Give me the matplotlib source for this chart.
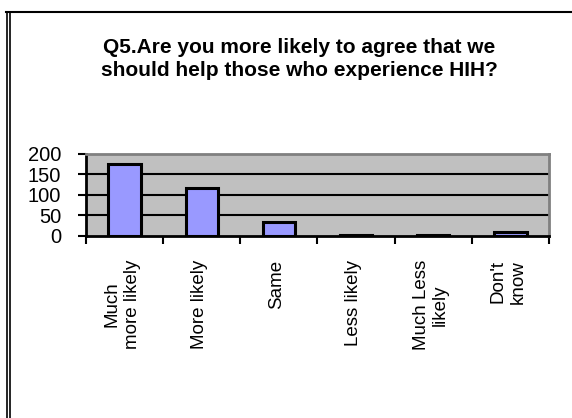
import matplotlib
matplotlib.use("Agg")
import matplotlib.pyplot as plt
from matplotlib.lines import Line2D
import numpy as np

categories = ["Much\nmore likely", "More likely", "Same", "Less likely", "Much Less\nlikely", "Don't\nknow"]
values = [175, 117, 33, 2, 2, 10]
yticks = [0, 50, 100, 150, 200]
title = "Q5.Are you more likely to agree that we\nshould help those who experience HIH?"

plt.rcParams['font.family'] = ['Liberation Sans', 'DejaVu Sans']

W, H = 572, 418
fig = plt.figure(figsize=(W / 100, H / 100), dpi=100)
fig.patch.set_facecolor('white')

ax = fig.add_axes([86 / W, 1 - 236 / H, (549 - 86) / W, (236 - 154) / H])
ax.set_facecolor('#C0C0C0')
x = np.arange(len(categories))
ax.bar(x, values, width=0.42, color='#9999FF', edgecolor='black', linewidth=2.2, zorder=3)
ax.set_xlim(-0.5, len(categories) - 0.5)
ax.set_ylim(0, 200)
ax.set_yticks(yticks)
ax.set_yticklabels([str(v) for v in yticks], fontsize=14.5)
for v in yticks[1:-1]:
    ax.axhline(v, color='black', linewidth=1.5, zorder=1)

ax.set_xticks(np.arange(len(categories) + 1) - 0.5)
ax.set_xticklabels([])
ax.tick_params(axis='x', length=6, width=1.5, direction='out', color='black')
ax.tick_params(axis='y', length=6, width=1.5, direction='out', color='black', pad=12)
for i, c in enumerate(categories):
    ax.text(i - 0.03, -0.29, c, transform=ax.get_xaxis_transform(), rotation=90,
            ha='center', va='top', multialignment='center', fontsize=13.5)

for s in ['left', 'bottom']:
    ax.spines[s].set_color('black')
    ax.spines[s].set_linewidth(2)
for s in ['top', 'right']:
    ax.spines[s].set_color('#808080')
    ax.spines[s].set_linewidth(2)

fig.text(299 / W, 1 - 38 / H, title, ha='center', va='top', fontsize=15,
         fontweight='bold', linespacing=1.25)

# frame lines
fig.add_artist(Line2D([6 / W, 1], [1 - 12 / H, 1 - 12 / H], color='black', linewidth=1.5))
fig.add_artist(Line2D([6.5 / W, 6.5 / W], [0, 1 - 12 / H], color='black', linewidth=1.2))
fig.add_artist(Line2D([9.5 / W, 9.5 / W], [0, 1 - 12 / H], color='black', linewidth=1.2))

fig.savefig("out.png", dpi=100, facecolor='white')
